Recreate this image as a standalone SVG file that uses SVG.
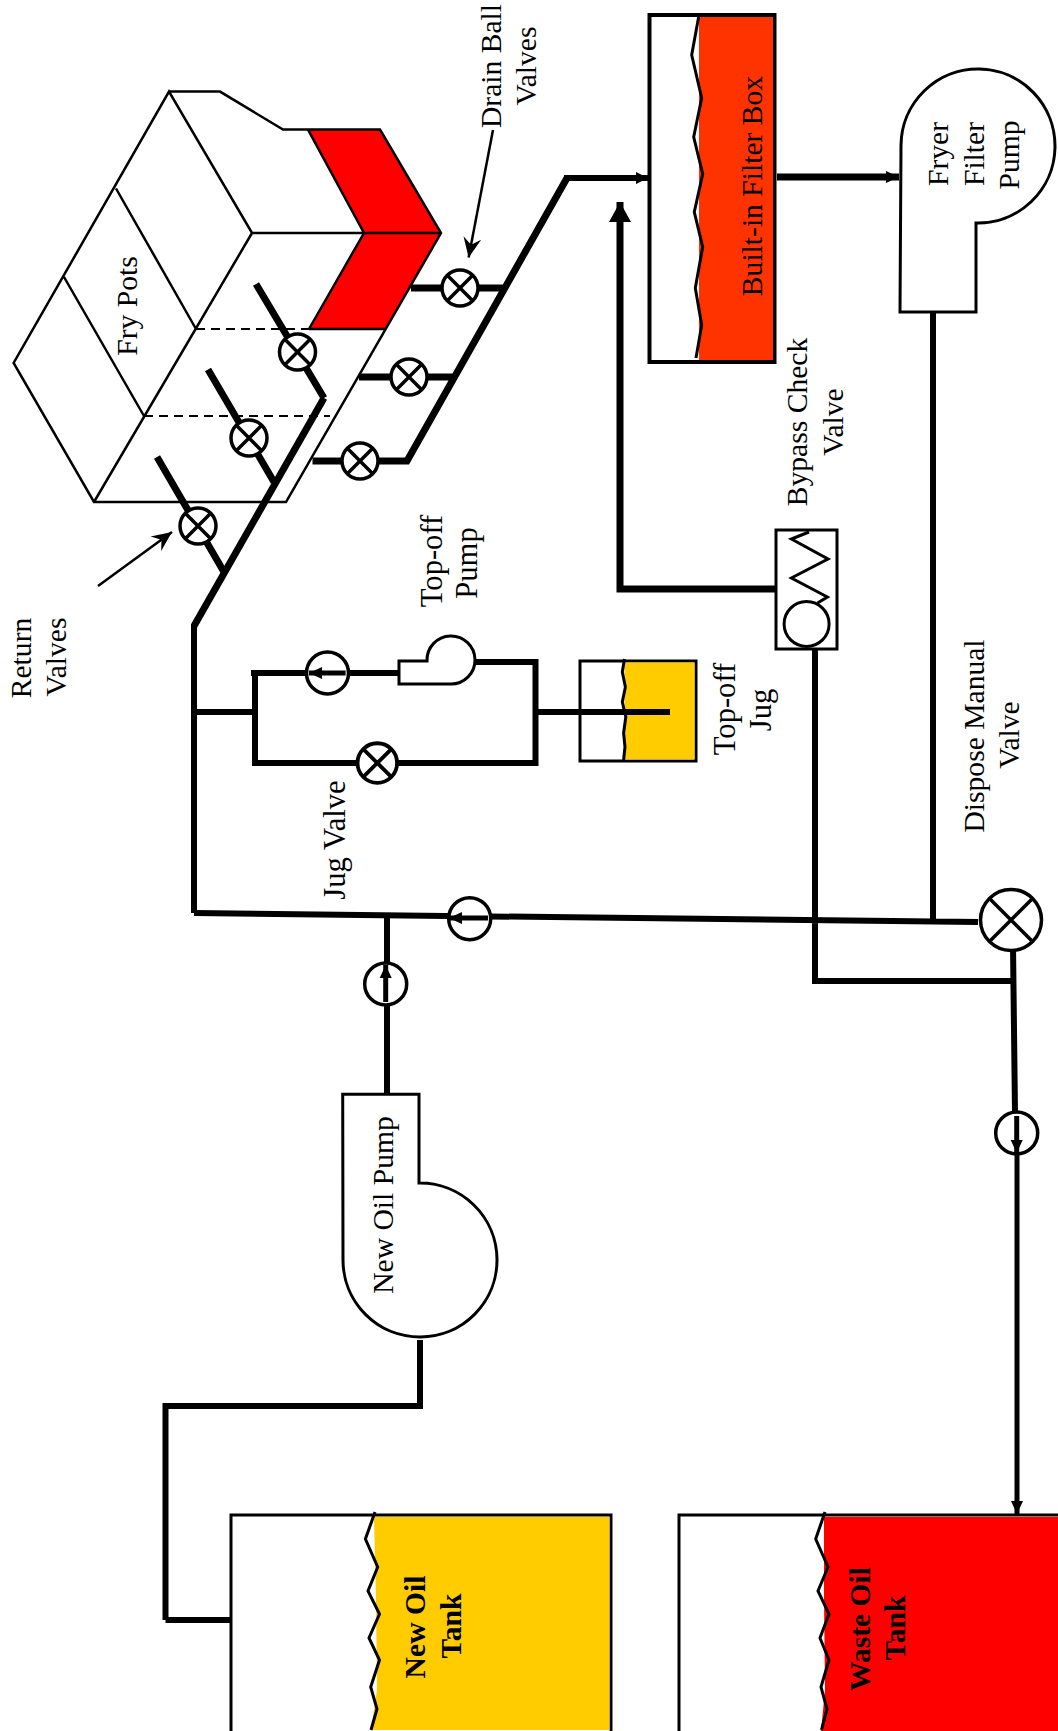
<svg xmlns="http://www.w3.org/2000/svg" width="1058" height="1731" viewBox="0 0 1058 1731">
<style>
text{font-family:"Liberation Serif","Times New Roman",serif;font-size:29.6px;fill:#000;text-anchor:middle}
.b{font-weight:bold}
.lg{font-size:30.6px}
.pipe,.p7,.p5,.wave,.thin,.box{fill:none;stroke:#000}
.pipe{stroke-width:6}
.p7{stroke-width:7}
.p5{stroke-width:5}
.wave{stroke-width:3}
.thin{stroke-width:2.5}
.box{stroke-width:3;fill:#fff}
.dash{stroke-dasharray:9 6;fill:none;stroke:#000;stroke-width:2}
.v{fill:#fff;stroke:#000;stroke-width:3.5}
.vx{stroke:#000;stroke-width:3.5}
</style>
<defs>
<g id="xv"><circle class="v" r="18"/><path class="vx" d="M-12.7-12.7L12.7 12.7M-12.7 12.7L12.7-12.7"/></g>
<marker id="ah" markerUnits="userSpaceOnUse" markerWidth="14" markerHeight="14" refX="12" refY="7" orient="auto"><path d="M0 1L12 7L0 13Z" fill="#000"/></marker>
<marker id="ah2" markerUnits="userSpaceOnUse" markerWidth="14" markerHeight="16" refX="13" refY="8" orient="auto"><path d="M0 2L13 8L0 14Z" fill="#000"/></marker>
<marker id="big" markerUnits="userSpaceOnUse" markerWidth="22" markerHeight="24" refX="20" refY="12" orient="auto"><path d="M0 1L20 12L0 23Z" fill="#000"/></marker>
<marker id="open" markerUnits="userSpaceOnUse" markerWidth="26" markerHeight="26" refX="24" refY="13" orient="auto"><path d="M4 4L24 13L4 22L11 13Z" fill="#000"/></marker>
</defs>

<g id="fry-pots">
<polygon points="308,129.6 380,129.6 441,233 386,329 309,329 364,233" fill="#f00"/>
<path class="thin" d="M169 91.6H220L283 129.6H380L441 233L286 502H94L13.6 363L169 91.6L252 233H441M308 129.6L364 233L309 329M252 233L94 502M116 188.5L196 329M64 277L144 416M386 329H309"/>
<path class="dash" d="M196 329H309M144 416H330"/>
<text transform="translate(137 306) rotate(-90)">Fry Pots</text>
</g>

<g id="connectors">
<path class="pipe" d="M194 913V624"/>
<path class="p7" d="M194 626L324 398"/>
<path class="p7" d="M157 457L224 572M208 369.5L274 482M256 284L324 398"/>
<path class="p7" d="M312.5 461H407L567 178M359 377H454M411 288H505"/>
<path class="pipe" d="M564 178H648" marker-end="url(#ah)"/>
<path class="p7" d="M777 177H899" marker-end="url(#ah2)"/>
<path class="p7" d="M776 589H620V202" marker-end="url(#big)"/>
<path class="pipe" d="M815 650V981H1013M194 913L978 922M933 312V920M1013 945L1015 1113"/>
<path class="p5" d="M1017 1150L1017 1514" marker-end="url(#ah2)"/>
<path class="pipe" d="M387 1094V915M165.500 1620H231M165.500 1620V1406H420V1340"/>
<path class="pipe" d="M194 712H255M255 673V763H356M251 673H399M475 662H535.500V763H397M537 712H670"/>
<path class="thin" d="M493 130L468.600 257.600" marker-end="url(#open)"/>
<path class="thin" d="M98 586L172 532" marker-end="url(#open)"/>
</g>

<g id="return-valves"><use href="#xv" x="198" y="526"/><use href="#xv" x="249" y="438"/><use href="#xv" x="297.500" y="352"/></g>
<g id="drain-valves"><use href="#xv" x="460" y="288"/><use href="#xv" x="409" y="377"/><use href="#xv" x="360" y="461"/></g>
<g id="drain-label"><text transform="translate(501 66) rotate(-90)">Drain Ball</text><text transform="translate(535.500 66) rotate(-90)">Valves</text></g>
<g id="return-label"><text transform="translate(31 658) rotate(-90)">Return</text><text transform="translate(65.500 657) rotate(-90)">Valves</text></g>

<g id="filter-box">
<rect class="box" x="649.500" y="15" width="125" height="347" style="stroke-width:4"/>
<rect x="699" y="17" width="74" height="343" fill="#f30"/>
<path class="wave" d="M699 15L691.700 55L701.700 98L693.700 137L702.700 174L694.300 212L702.700 247L695.300 288L701.700 325L696 358"/>
<text transform="translate(762 186) rotate(-90)">Built-in Filter Box</text>
</g>

<g id="fryer-filter-pump">
<path class="box" d="M900 312L901 145A77 77 0 1 1 976 223V312Z"/>
<text transform="translate(948 154) rotate(-90)">Fryer</text>
<text transform="translate(984 154) rotate(-90)">Filter</text>
<text transform="translate(1019 155) rotate(-90)">Pump</text>
</g>

<g id="bypass-check-valve">
<rect class="box" x="776" y="530" width="61" height="119"/>
<path class="wave" d="M809 532L791.400 539L828 559L791.400 578L827.400 597L817.500 603"/>
<circle class="box" cx="806.600" cy="624" r="22.500"/>
<text transform="translate(807 422) rotate(-90)">Bypass Check</text>
<text transform="translate(843 422) rotate(-90)">Valve</text>
</g>

<g id="top-off-pump">
<path class="box" d="M399 661H427A24 24 0 1 1 451 684H399Z"/>
<text class="lg" transform="translate(442 561) rotate(-90)">Top-off</text>
<text class="lg" transform="translate(477 563) rotate(-90)">Pump</text>
</g>
<g id="top-off-check"><circle class="v" cx="327.500" cy="673" r="21"/><path class="p5" d="M345.600 673H309" marker-end="url(#ah2)"/></g>
<g id="jug-valve"><use href="#xv" transform="translate(377.300 763) scale(1.1)"/><text class="lg" transform="translate(345 840) rotate(-90)">Jug Valve</text></g>

<g id="top-off-jug">
<rect class="box" x="580" y="661" width="116" height="100"/>
<rect x="624.500" y="662.500" width="70" height="97" fill="#fc0"/>
<path class="wave" d="M624.500 659L622.300 672L625.400 687L622.300 702L625.800 717L623.600 733L625 747L623.600 760" style="stroke-linejoin:round"/>
<path class="pipe" d="M537 712H670"/>
<text class="lg" transform="translate(735 709) rotate(-90)">Top-off</text>
<text class="lg" transform="translate(770.500 710) rotate(-90)">Jug</text>
</g>

<g id="main-check"><circle class="v" cx="469.700" cy="918.700" r="21"/><path class="p5" d="M488 918H449" marker-end="url(#ah2)"/></g>
<g id="new-oil-check"><circle class="v" cx="385.700" cy="984" r="21"/><path class="p5" d="M385.700 1002V965" marker-end="url(#ah2)"/></g>
<g id="dispose-check"><circle class="v" cx="1016.700" cy="1133" r="21"/><path class="p5" d="M1016.700 1116V1153" marker-end="url(#ah2)"/></g>

<g id="dispose-valve">
<circle class="v" cx="1011" cy="920" r="30.500"/>
<path class="vx" d="M989.500 898.500L1032.500 941.500M989.500 941.500L1032.500 898.500"/>
<text transform="translate(984 736) rotate(-90)">Dispose Manual</text>
<text transform="translate(1019 735) rotate(-90)">Valve</text>
</g>

<g id="new-oil-pump">
<path class="box" d="M342.700 1094.300H419V1183A77 77 0 1 1 343 1260Z"/>
<path class="pipe" d="M387 1094V1085"/>
<text transform="translate(392.700 1205) rotate(-90)">New Oil Pump</text>
</g>

<g id="new-oil-tank">
<rect x="231" y="1515" width="380" height="218" fill="#fff" stroke="#000" stroke-width="3"/>
<polygon points="374,1517 609.500,1517 609.500,1730 371,1730 377,1690 376,1600" fill="#fc0"/>
<path class="wave" d="M375 1512L365.400 1539L377.700 1567L368 1591L379.500 1614L369 1638L379.500 1660L370.700 1687L377 1709L371 1730"/>
<text class="b" transform="translate(425 1627) rotate(-90)">New Oil</text>
<text class="b" transform="translate(461 1626) rotate(-90)">Tank</text>
</g>

<g id="waste-oil-tank">
<rect x="679" y="1515" width="390" height="218" fill="#fff" stroke="#000" stroke-width="3"/>
<polygon points="824,1517 1058,1517 1058,1731 821,1731 825,1690 824,1600" fill="#f00"/>
<path class="wave" d="M825 1512L815.700 1539L828 1567L818 1591L829 1614L820 1638L829 1660L821 1687L827 1709L821.500 1730"/>
<text class="b" transform="translate(870 1629) rotate(-90)">Waste Oil</text>
<text class="b" transform="translate(905 1628) rotate(-90)">Tank</text>
</g>
</svg>
